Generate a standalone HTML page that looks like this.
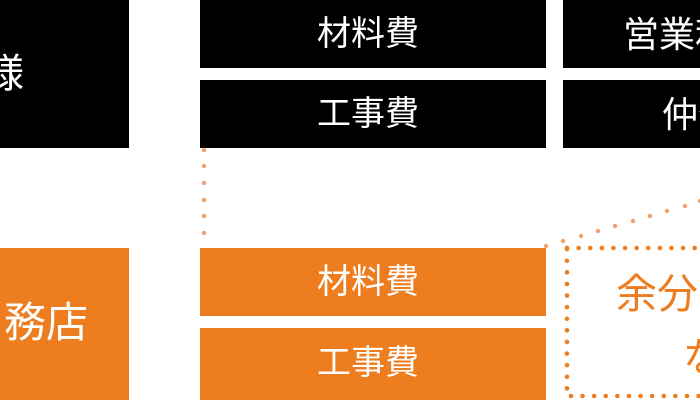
<!DOCTYPE html>
<html><head><meta charset="utf-8"><style>
html,body{margin:0;padding:0}
#w{width:700px;height:400px;overflow:hidden;background:#fff;position:relative;font-family:"Liberation Sans","Noto Sans CJK JP",sans-serif}
.b{position:absolute;background:#000;color:#fff}
.o{position:absolute;background:#ee7d20;color:#fff}
.t{position:absolute;white-space:nowrap;line-height:1}
</style></head><body><div id="w">
<div class="b" style="left:0;top:0;width:129px;height:148px"></div>
<div class="t" style="left:-16px;top:54px;font-size:40px;color:#fff">様</div>
<div class="o" style="left:0;top:248px;width:129px;height:152px"></div>
<div class="t" style="left:4px;top:302px;font-size:42px;color:#fff">務店</div>

<div class="b" style="left:200px;top:0;width:346px;height:68px"></div>
<div class="t" style="left:317px;top:17px;font-size:34px;color:#fff">材料費</div>
<div class="b" style="left:200px;top:80px;width:346px;height:68px"></div>
<div class="t" style="left:317px;top:97px;font-size:34px;color:#fff">工事費</div>
<div class="o" style="left:200px;top:248px;width:346px;height:68px"></div>
<div class="t" style="left:317px;top:265px;font-size:34px;color:#fff">材料費</div>
<div class="o" style="left:200px;top:328px;width:346px;height:72px"></div>
<div class="t" style="left:317px;top:346px;font-size:34px;color:#fff">工事費</div>

<div class="b" style="left:563px;top:0;width:150px;height:68px"></div>
<div class="t" style="left:623px;top:17px;font-size:36px;color:#fff">営業利益</div>
<div class="b" style="left:563px;top:80px;width:150px;height:68px"></div>
<div class="t" style="left:662px;top:97px;font-size:36px;color:#fff">仲介手数料</div>

<svg width="700" height="400" style="position:absolute;left:0;top:0">
<g fill="#f0a068">
<circle cx="204" cy="150" r="2.2"/><circle cx="204" cy="166" r="2.2"/><circle cx="204" cy="183" r="2.2"/><circle cx="204" cy="200" r="2.2"/><circle cx="204" cy="216" r="2.2"/><circle cx="204" cy="233" r="2.2"/>
<circle cx="546" cy="246" r="2.2"/><circle cx="563" cy="241" r="2.2"/><circle cx="581" cy="236" r="2.2"/><circle cx="598" cy="231" r="2.2"/><circle cx="615" cy="226" r="2.2"/><circle cx="633" cy="221" r="2.2"/><circle cx="650" cy="216" r="2.2"/><circle cx="667" cy="211" r="2.2"/><circle cx="685" cy="206" r="2.2"/><circle cx="700" cy="201" r="2.2"/>
</g>
<rect x="567" y="248" width="160" height="148" fill="none" stroke="#ee7d20" stroke-width="4.5" stroke-dasharray="0.1 11.5" stroke-linecap="round"/>
</svg>
<div class="t" style="left:616px;top:274px;font-size:41px;color:#ee7d20">余分な</div>
<div class="t" style="left:683px;top:338px;font-size:40px;color:#ee7d20">な</div>
</div></body></html>
